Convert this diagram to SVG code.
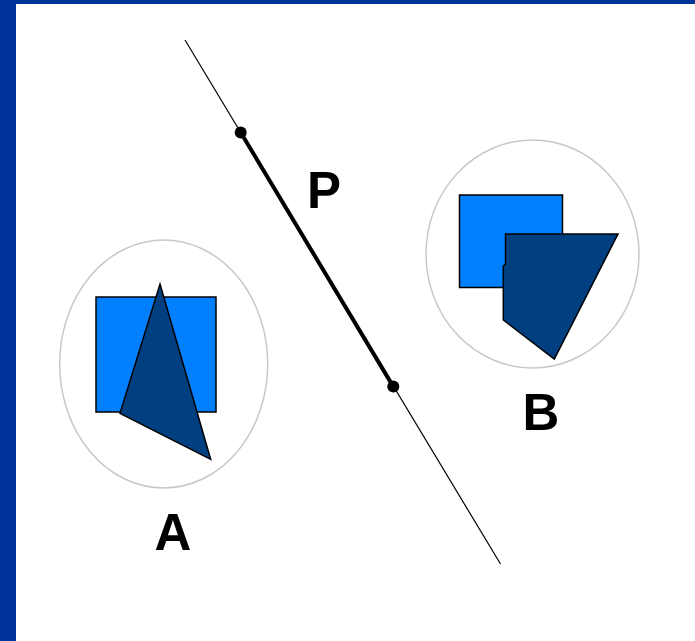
<svg xmlns="http://www.w3.org/2000/svg" width="695" height="641" viewBox="0 0 695 641">
<style>
.sq{fill:#0080ff;stroke:#000;stroke-width:1.5}
.dk{fill:#004080;stroke:#000;stroke-width:1.5;stroke-linejoin:miter}
.ring{fill:none;stroke:#c8c8c8;stroke-width:1.5}
.lbl{font-family:"Liberation Sans",Arial,sans-serif;font-weight:bold;font-size:51px;fill:#000;text-anchor:middle}
</style>
<rect x="0" y="0" width="695" height="641" fill="#ffffff"/>
<rect x="0" y="0" width="695" height="4" fill="#003399"/>
<rect x="0" y="0" width="16" height="641" fill="#003399"/>
<g id="connectors">
<line x1="185" y1="40" x2="500.5" y2="564" stroke="#000" stroke-width="1.2"/>
<line x1="240.7" y1="132.5" x2="393.3" y2="386.6" stroke="#000" stroke-width="4"/>
<circle cx="240.7" cy="132.5" r="6" fill="#000"/>
<circle cx="393.3" cy="386.6" r="6" fill="#000"/>
<text class="lbl" x="324" y="208">P</text>
</g>
<g id="nodeA">
<ellipse class="ring" cx="163.7" cy="364" rx="104" ry="124"/>
<rect class="sq" x="96" y="297" width="120" height="115"/>
<polygon class="dk" points="160,284 210.7,459.3 120,413.3"/>
<text class="lbl" x="173" y="550">A</text>
</g>
<g id="nodeB">
<ellipse class="ring" cx="532.5" cy="254" rx="106.5" ry="114"/>
<rect class="sq" x="459.5" y="195" width="103" height="92.5"/>
<polygon class="dk" points="505.5,234 618,234 554.3,359 503.3,320 503.3,266 505.5,264"/>
<text class="lbl" x="541" y="430">B</text>
</g>
</svg>
